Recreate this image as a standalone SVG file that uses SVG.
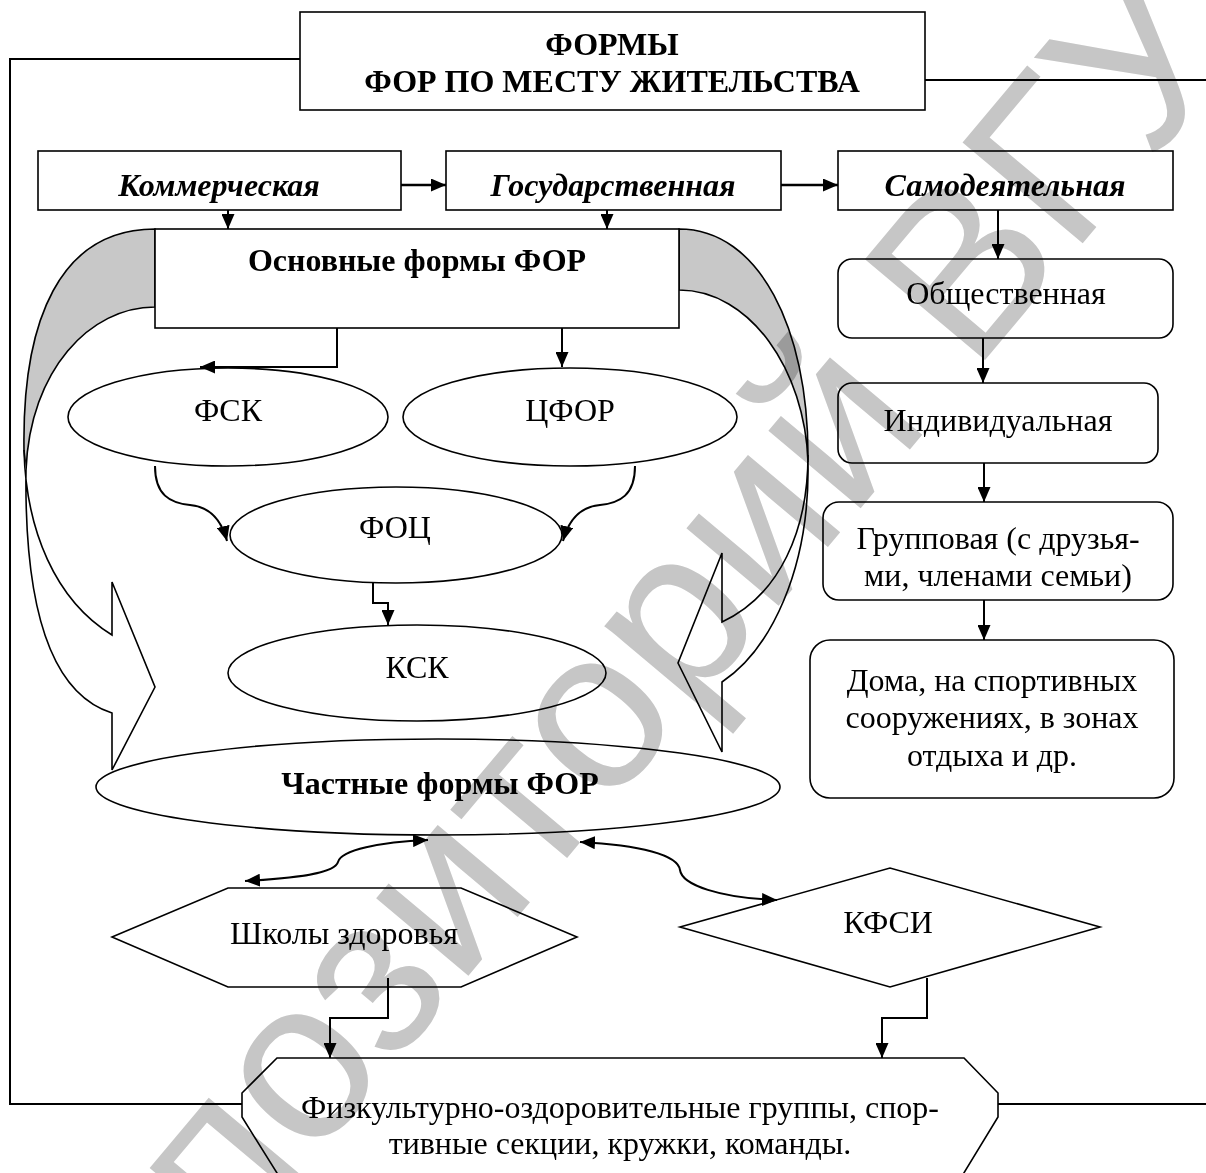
<svg xmlns="http://www.w3.org/2000/svg" width="1206" height="1173" viewBox="0 0 1206 1173">
<style>
.s{fill:#fff;stroke:#000;stroke-width:1.6}
.c{fill:none;stroke:#000;stroke-width:2}
.k{stroke-width:2.6}
.t{font-family:"Liberation Serif","Times New Roman",serif;font-size:32px;fill:#000;text-anchor:middle}
.b{font-weight:bold}
.i{font-style:italic}
.g{fill:#c8c8c8;stroke:#000;stroke-width:1.6}
.ar{fill:#fff;stroke:#000;stroke-width:1.6;stroke-linejoin:miter}
.w{font-family:"Liberation Sans",Arial,sans-serif;font-size:228px;fill:#c6c6c6;text-anchor:middle;mix-blend-mode:multiply}
</style>
<defs>
<marker id="a" viewBox="0 0 15 13" refX="15" refY="6.5" markerWidth="15" markerHeight="13" markerUnits="userSpaceOnUse" orient="auto-start-reverse"><path d="M0,0 L15,6.5 L0,13 z" fill="#000"/></marker>
</defs>
<rect width="1206" height="1173" fill="#fff"/>
<g id="curved-arrows">
<path class="g" d="M155,229 C60,229 22,320 24,450 L26,470 C30,370 90,307 155,307 Z"/>
<path class="ar" d="M24,450 C26,530 55,600 112,635 L112,582 L155,687 L112,770 L112,713 C55,695 24,620 26,470"/>
<path class="g" d="M679,229 C760,229 808,330 808,455 L808,462 C805,370 750,290 679,290 Z"/>
<path class="ar" d="M808,455 C808,530 780,595 722,622 L722,553 L678,663 L722,752 L722,682 C770,650 810,570 808,462"/>
</g>
<g id="title"><rect class="s" x="300" y="12" width="625" height="98"/><text class="t b" x="612" y="55">ФОРМЫ</text><text class="t b" x="612" y="92">ФОР ПО МЕСТУ ЖИТЕЛЬСТВА</text></g>
<g id="kommer"><rect class="s" x="38" y="151" width="363" height="59"/><text class="t b i" x="219" y="196">Коммерческая</text></g>
<g id="gos"><rect class="s" x="446" y="151" width="335" height="59"/><text class="t b i" x="613" y="196">Государственная</text></g>
<g id="samod"><rect class="s" x="838" y="151" width="335" height="59"/><text class="t b i" x="1005" y="196">Самодеятельная</text></g>
<g id="osnovnye"><rect class="s" x="155" y="229" width="524" height="99"/><text class="t b" x="417" y="271">Основные формы ФОР</text></g>
<g id="fsk"><ellipse class="s" cx="228" cy="417" rx="160" ry="49"/><text class="t" x="228" y="421">ФСК</text></g>
<g id="cfor"><ellipse class="s" cx="570" cy="417" rx="167" ry="49"/><text class="t" x="570" y="421">ЦФОР</text></g>
<g id="foc"><ellipse class="s" cx="396" cy="535" rx="166" ry="48"/><text class="t" x="395" y="538">ФОЦ</text></g>
<g id="ksk"><ellipse class="s" cx="417" cy="673" rx="189" ry="48"/><text class="t" x="417" y="678">КСК</text></g>
<g id="chastnye"><ellipse class="s" cx="438" cy="787" rx="342" ry="48"/><text class="t b" x="440" y="794">Частные формы ФОР</text></g>
<g id="shkoly"><polygon class="s" points="112,937 228,888 461,888 577,937 461,987 228,987"/><text class="t" x="344" y="944">Школы здоровья</text></g>
<g id="kfsi"><polygon class="s" points="680,927 890,868 1100,927 890,987"/><text class="t" x="888" y="933">КФСИ</text></g>
<g id="gruppy"><polygon class="s" points="277,1058 964,1058 998,1093 998,1117 959,1181 282,1181 242,1117 242,1093"/><text class="t" x="620" y="1118">Физкультурно-оздоровительные группы, спор-</text><text class="t" x="620" y="1154">тивные секции, кружки, команды.</text></g>
<g id="obsh"><rect class="s" x="838" y="259" width="335" height="79" rx="14"/><text class="t" x="1006" y="304">Общественная</text></g>
<g id="indiv"><rect class="s" x="838" y="383" width="320" height="80" rx="14"/><text class="t" x="998" y="431">Индивидуальная</text></g>
<g id="grupp"><rect class="s" x="823" y="502" width="350" height="98" rx="16"/><text class="t" x="998" y="549">Групповая (с друзья-</text><text class="t" x="998" y="586">ми, членами семьи)</text></g>
<g id="doma"><rect class="s" x="810" y="640" width="364" height="158" rx="20"/><text class="t" x="992" y="691">Дома, на спортивных</text><text class="t" x="992" y="728">сооружениях, в зонах</text><text class="t" x="992" y="766">отдыха и др.</text></g>
<g id="connectors">
<path class="c" d="M300,59 H10 V1104 H242"/>
<path class="c" d="M925,80 H1206"/>
<path class="c" d="M998,1104 H1206"/>
<path class="c k" d="M401,185 H446" marker-end="url(#a)"/>
<path class="c k" d="M781,185 H838" marker-end="url(#a)"/>
<path class="c" d="M228,210 V229" marker-end="url(#a)"/>
<path class="c" d="M607,210 V229" marker-end="url(#a)"/>
<path class="c" d="M998,210 V259" marker-end="url(#a)"/>
<path class="c" d="M983,338 V383" marker-end="url(#a)"/>
<path class="c" d="M984,463 V502" marker-end="url(#a)"/>
<path class="c" d="M984,600 V640" marker-end="url(#a)"/>
<path class="c" d="M337,328 V367 H200" marker-end="url(#a)"/>
<path class="c" d="M562,328 V367" marker-end="url(#a)"/>
<path class="c" d="M155,466 C155,495 170,503 190,505 C212,507 222,522 227,541" marker-end="url(#a)"/>
<path class="c" d="M635,466 C635,495 620,503 600,505 C578,507 568,522 563,541" marker-end="url(#a)"/>
<path class="c" d="M373,583 V603 H388 V625" marker-end="url(#a)"/>
<path class="c" d="M245,881 C300,878 335,873 338,862 C341,850 380,842 428,840" marker-start="url(#a)" marker-end="url(#a)"/>
<path class="c" d="M580,842 C640,845 678,855 680,870 C682,885 720,898 777,900" marker-start="url(#a)" marker-end="url(#a)"/>
<path class="c" d="M388,978 V1018 H330 V1058" marker-end="url(#a)"/>
<path class="c" d="M927,978 V1018 H882 V1058" marker-end="url(#a)"/>
</g>
<text class="w" transform="translate(656,752) rotate(-50)">репозиторий ВГУ</text>
</svg>
